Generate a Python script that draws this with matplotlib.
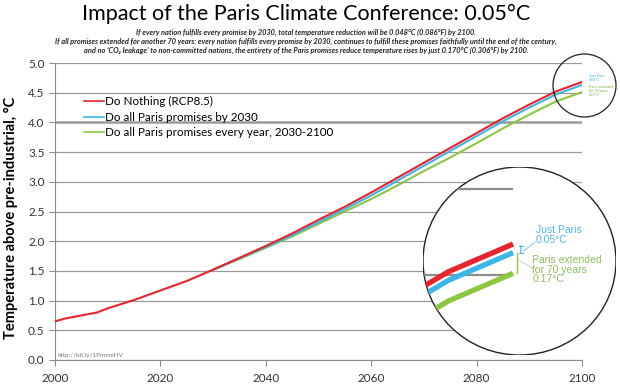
import matplotlib.pyplot as plt
import matplotlib.patches as mpatches
import numpy as np
from matplotlib.ticker import FormatStrFormatter

plt.rcParams["font.family"] = ["Lato", "DejaVu Sans"]

W, H = 620, 386

years = [2000, 2002, 2005, 2008, 2010, 2015, 2020, 2025, 2030, 2035, 2040, 2045,
         2050, 2055, 2060, 2065, 2070, 2075, 2080, 2085, 2090, 2095, 2100]
do_nothing = [0.65, 0.70, 0.75, 0.80, 0.87, 1.01, 1.17, 1.33, 1.52, 1.72, 1.92, 2.13,
              2.36, 2.58, 2.82, 3.07, 3.32, 3.57, 3.82, 4.07, 4.30, 4.52, 4.68]
years_paris = [2030, 2035, 2040, 2045, 2050, 2055, 2060, 2065, 2070, 2075, 2080,
               2085, 2090, 2095, 2100]
paris_2030 = [1.52, 1.71, 1.90, 2.10, 2.32, 2.54, 2.77, 3.02, 3.27, 3.52, 3.77,
              4.02, 4.25, 4.47, 4.63]
paris_every_year = [1.52, 1.70, 1.89, 2.08, 2.29, 2.50, 2.71, 2.94, 3.18, 3.41, 3.65,
                    3.90, 4.13, 4.35, 4.51]

labels = ["Do Nothing (RCP8.5)", "Do all Paris promises by 2030",
          "Do all Paris promises every year, 2030-2100"]
colors = ["#e8232b", "#3db5e6", "#8dc740"]


def fx(px):
    return px / W


def fy(py):
    return 1 - py / H


fig = plt.figure(figsize=(W / 100, H / 100), dpi=100)
ax = fig.add_axes((fx(55), fy(360), fx(582) - fx(55), fy(63) - fy(360)))

ax.plot(years_paris, paris_every_year, color=colors[2], lw=1.5, zorder=3)
ax.plot(years_paris, paris_2030, color=colors[1], lw=1.5, zorder=4)
ax.plot(years, do_nothing, color=colors[0], lw=1.5, zorder=5)

ax.set_xlim(2000, 2100)
ax.set_ylim(0, 5.0)
ax.set_xticks(np.arange(2000, 2101, 20))
ax.set_yticks(np.arange(0, 5.01, 0.5))
ax.yaxis.set_major_formatter(FormatStrFormatter("%.1f"))
ax.grid(axis="y", color="#9a9a9a", lw=0.9)
ax.get_ygridlines()[8].set_linewidth(1.8)
ax.set_axisbelow(True)
for s in ["top", "right"]:
    ax.spines[s].set_visible(False)
for s in ["left", "bottom"]:
    ax.spines[s].set_color("#8c8c8c")
ax.tick_params(colors="#8c8c8c", labelcolor="#333333", labelsize=8.5, length=4)
ax.tick_params(axis="x", pad=5)
ax.set_ylabel("Temperature above pre-industrial, °C", fontsize=10.5, fontweight="bold")
ax.yaxis.set_label_coords(-0.07, 0.48)

# legend
handles = [plt.Line2D([], [], color=c, lw=1.2) for c in colors]
ax.legend(handles, labels, loc="upper left",
          bbox_to_anchor=(fx(79 - 55) / (fx(582) - fx(55)), 0.905),
          frameon=False, fontsize=8.4, handlelength=1.7, handletextpad=0.1,
          labelspacing=0.4, borderaxespad=0)

ax.text(0.004, 0.008, "http://bit.ly/1PmmeHV", transform=ax.transAxes,
        fontsize=4.5, color="#777777", va="bottom")

# titles
fig.text(0.494, fy(14), "Impact of the Paris Climate Conference: 0.05°C",
         fontsize=15.5, ha="center", va="center")
sub = ["If every nation fulfills every promise by 2030, total temperature reduction will be 0.048°C (0.086°F) by 2100.",
       "If all promises extended for another 70 years: every nation fulfills every promise by 2030, continues to fulfill these promises faithfully until the end of the century,",
       "and no ‘CO₂ leakage’ to non-committed nations, the entirety of the Paris promises reduce temperature rises by just 0.170°C (0.306°F) by 2100."]
for t, py in zip(sub, [32, 41.5, 50.5]):
    fig.text(0.494, fy(py), t, fontsize=5.3, style="italic", fontweight="bold",
             ha="center", va="center", color="#222222")

# small circle around the end of the lines
small = mpatches.Ellipse((fx(584.5), fy(85.5)), 63 / W, 63 / H, transform=fig.transFigure,
                         fill=False, ec="#222222", lw=0.9, zorder=10)
fig.add_artist(small)
fig.text(fx(589), fy(78), "Just Paris\n0.05°C", fontsize=2.6, color=colors[1],
         va="center", family=["Liberation Sans"], linespacing=1.0)
fig.text(fx(589), fy(91), "Paris extended\nfor 70 years\n0.17°C", fontsize=2.6,
         color="#7db346", va="center", family=["Liberation Sans"], linespacing=1.0)

# zoomed inset
ins = fig.add_axes((fx(423), fy(355), fx(616) - fx(423), fy(167) - fy(355)))
ins.set_xlim(2093.0, 2108.0)
ins.set_ylim(4.035, 5.128)
ins.axis("off")
circle = mpatches.Ellipse((0.5, 0.5), 1, 1, transform=ins.transAxes,
                          fc="white", ec="#222222", lw=1.0, zorder=0)
ins.add_patch(circle)
ins.patch.set_alpha(0)
grid_lines = ins.hlines([4.5, 5.0], 2080, 2100, color="#8c8c8c", lw=1.6, zorder=1)
grid_lines.set_clip_path(circle)
for yr, val, c in [(years_paris, paris_every_year, colors[2]),
                   (years_paris, paris_2030, colors[1]),
                   (years, do_nothing, colors[0])]:
    ln, = ins.plot(yr, val, color=c, lw=3.8, zorder=3, solid_capstyle="butt")
    ln.set_clip_path(circle)

ins.annotate("", xy=(2100.6, do_nothing[-1] - 0.01), xytext=(2100.6, paris_2030[-1]),
             arrowprops=dict(arrowstyle="|-|", color=colors[1], lw=0.8,
                             mutation_scale=1.5, shrinkA=0, shrinkB=0))
ins.plot([2100.3, 2100.3], [paris_2030[-1], paris_every_year[-1]], color="#8dc740", lw=1.0)
ins.plot([2100.8, 2101.7], [4.64, 4.69], color=colors[1], lw=0.5)
ins.plot([2100.4, 2101.5], [4.59, 4.54], color="#b8c8a8", lw=0.5)
ins.text(2101.75, 4.79, "Just Paris\n0.05°C", fontsize=7.5, color="#4db8ea",
         va="top", family=["Liberation Sans"], linespacing=0.95)
ins.text(2101.5, 4.615, "Paris extended\nfor 70 years\n0.17°C", fontsize=7.5,
         color="#8cbf5c", va="top", family=["Liberation Sans"], linespacing=0.95)

fig.savefig("out.png", dpi=100)
